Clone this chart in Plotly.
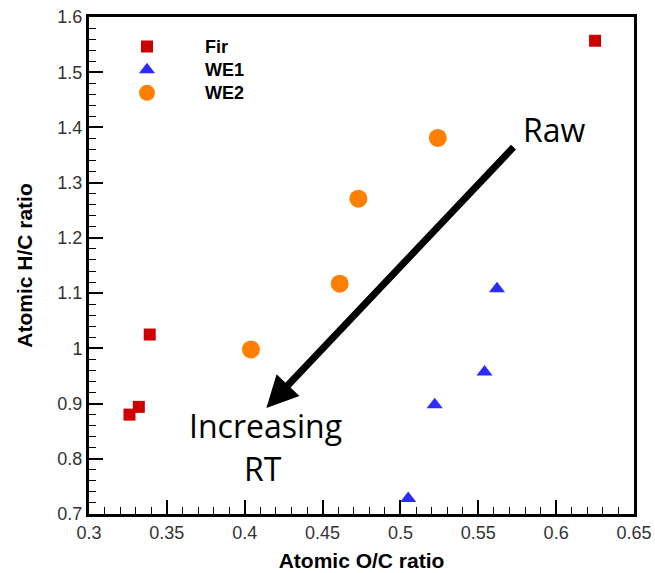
import plotly.graph_objects as go

# Elemental ratios (O/C, H/C) for each sample series
fir_oc = [0.625, 0.339, 0.332, 0.326]
fir_hc = [1.557, 1.025, 0.894, 0.880]

we1_oc = [0.562, 0.554, 0.522, 0.505]
we1_hc = [1.108, 0.957, 0.898, 0.728]

we2_oc = [0.524, 0.473, 0.461, 0.404]
we2_hc = [1.381, 1.271, 1.117, 0.998]

series_names = ["Fir", "WE1", "WE2"]


def legend_label(name):
    # bold label, drawn a bit larger than the legend row pitch
    return '<span style="font-size:18px"><b>' + name + "</b></span>"


fig = go.Figure()
fig.add_trace(go.Scatter(x=fir_oc, y=fir_hc, mode="markers", name=legend_label(series_names[0]),
                         marker=dict(symbol="square", size=12, color="#CC0000")))
fig.add_trace(go.Scatter(x=we1_oc, y=we1_hc, mode="markers", name=legend_label(series_names[1]),
                         marker=dict(symbol="triangle-up", size=14, color="#2B2BFF")))
fig.add_trace(go.Scatter(x=we2_oc, y=we2_hc, mode="markers", name=legend_label(series_names[2]),
                         marker=dict(symbol="circle", size=18, color="#FF8000")))

axis_common = dict(
    showline=True, linewidth=3, linecolor="black", mirror=True,
    ticks="inside", ticklen=14, tickwidth=2, tickcolor="black",
    showgrid=False, zeroline=False, automargin=False,
    tickfont=dict(family="Liberation Sans, Arial", size=18, color="#333333"),
    title_font=dict(family="Liberation Sans, Arial", size=21, color="black"),
)

fig.update_xaxes(range=[0.3, 0.65], dtick=0.05, tick0=0.3,
                 minor=dict(ticks="inside", ticklen=7, tickwidth=1, tickcolor="black", dtick=0.01),
                 title_text="<b>Atomic O/C ratio</b>", title_standoff=12, **axis_common)
fig.update_yaxes(range=[0.7, 1.6], dtick=0.1, tick0=0.7,
                 minor=dict(ticks="inside", ticklen=7, tickwidth=1, tickcolor="black", dtick=0.02),
                 title_text="<b>Atomic H/C ratio</b>", title_standoff=20, **axis_common)

text_font = dict(family="Open Sans", size=32, color="black")
fig.add_annotation(x=0.4139, y=0.892, ax=0.5735, ay=1.367, xref="x", yref="y",
                   axref="x", ayref="y", text="", showarrow=True,
                   arrowhead=2, arrowwidth=7, arrowsize=0.9, arrowcolor="black")
fig.add_annotation(x=0.599, y=1.396, xref="x", yref="y", text="Raw",
                   showarrow=False, font=text_font)
fig.add_annotation(x=0.4133, y=0.861, xref="x", yref="y", text="Increasing",
                   showarrow=False, font=text_font)
fig.add_annotation(x=0.412, y=0.7815, xref="x", yref="y", text="RT",
                   showarrow=False, font=text_font)

fig.update_layout(
    width=655, height=573,
    margin=dict(l=89, r=21, t=17, b=59),
    paper_bgcolor="white", plot_bgcolor="white",
    showlegend=True,
    legend=dict(x=0.0, y=0.974, xanchor="left", yanchor="top",
                itemwidth=106, bgcolor="rgba(0,0,0,0)",
                font=dict(family="Liberation Sans, Arial", size=15.5, color="black")),
)

fig.write_html("out.html")
